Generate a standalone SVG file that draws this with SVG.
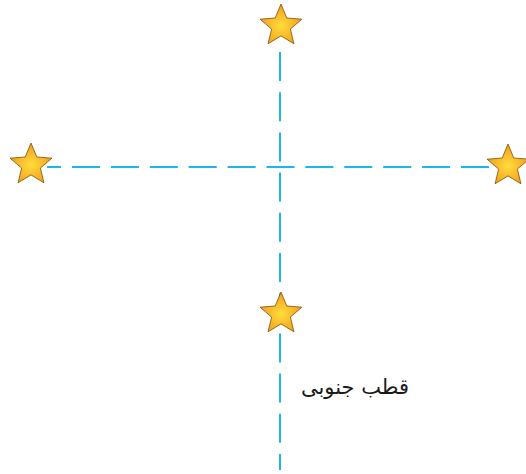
<svg xmlns="http://www.w3.org/2000/svg" width="526" height="474" viewBox="0 0 526 474">
<style>
.axis{stroke:#1CB5EC;stroke-width:2;fill:none}
.star{fill:url(#sg);stroke:#7a5200;stroke-width:0.8;stroke-linejoin:miter}
.lbl{font-family:"DejaVu Sans","Noto Sans",sans-serif;font-size:21px;fill:#1a1a1a}
</style>
<defs>
<radialGradient id="sg" cx="0.5" cy="0.55" r="0.55">
<stop offset="0" stop-color="#FFDD3C"/>
<stop offset="1" stop-color="#F39A1E"/>
</radialGradient>
<polygon id="st" class="star" points="0,-22 5.8,-8 20.92,-6.8 9.4,3.05 12.93,17.8 0,9.9 -12.93,17.8 -9.4,3.05 -20.92,-6.8 -5.8,-8"/>
</defs>
<g id="connectors">
<line class="axis" x1="280" y1="52" x2="280" y2="470" stroke-dasharray="29 11.2"/>
<line class="axis" x1="47" y1="167" x2="492" y2="167" stroke-dasharray="28 10.9" stroke-dashoffset="13.9"/>
</g>
<g id="star-top"><use href="#st" x="281" y="26"/></g>
<g id="star-left"><use href="#st" x="31" y="165"/></g>
<g id="star-right"><use href="#st" x="508" y="166"/></g>
<g id="star-bottom"><use href="#st" x="281" y="314"/></g>
<g id="label"><text class="lbl" x="355" y="394" text-anchor="middle" direction="rtl">قطب جنوبی</text></g>
</svg>
